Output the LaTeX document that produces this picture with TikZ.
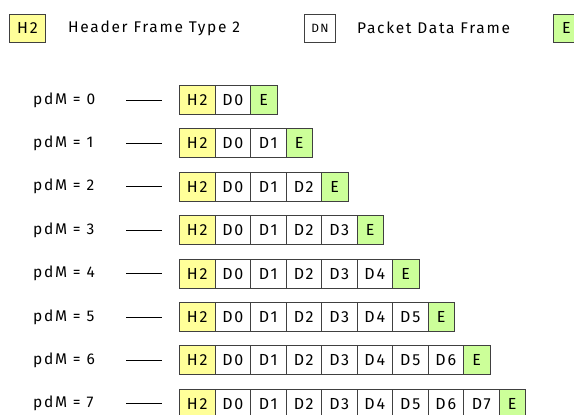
\documentclass[tikz,border=0pt]{standalone}
\usepackage{fontspec}
\setmainfont[LetterSpace=11]{Fira Sans}
\definecolor{hyel}{HTML}{FFFF99}
\definecolor{egrn}{HTML}{CCFF99}
\definecolor{edge}{HTML}{404040}
\begin{document}
\begin{tikzpicture}[x=1pt,y=-1pt,
  cell/.style={draw=edge,line width=1pt,minimum height=29pt,inner sep=0pt,anchor=west,font=\fontsize{16}{16}\selectfont},
  hbox/.style={cell,fill=hyel,minimum width=35.5pt},
  dbox/.style={cell,fill=white,minimum width=35.5pt},
  ebox/.style={cell,fill=egrn,minimum width=26.5pt},
  lbl/.style={anchor=west,inner sep=0pt,font=\fontsize{15.5}{15.5}\selectfont},
  conn/.style={draw=black,line width=0.9pt}]
\useasboundingbox (0,0) rectangle (574,415);
% legend
\node[hbox,minimum width=36pt,minimum height=28pt] (lh) at (9,28) {H2};
\node[lbl] (lht) at (68,28) {Header Frame Type 2};
\node[dbox,minimum width=31pt,minimum height=28pt,font=\fontsize{12}{12}\selectfont] (ld) at (304,28) {DN};
\node[lbl] (ldt) at (357,28) {Packet Data Frame};
\node[ebox,minimum width=26pt,minimum height=28pt] (le) at (553,28) {E};
% rows
\foreach \k in {0,...,7}{
  \pgfmathsetmacro{\yy}{100+43.4*\k}
  \node[lbl] (p\k) at (33,\yy) {pdM = \k};
  \coordinate (a\k) at (126,\yy);
  \coordinate (b\k) at (162,\yy);
  \draw[conn] (a\k) -- (b\k);
  \node[hbox] (h\k) at (179,\yy) {H2};
  \ifnum\k>0
    \pgfmathtruncatemacro{\last}{\k}
    \foreach \i in {0,...,\last}{
      \node[dbox] (d\k-\i) at (214.5+35.5*\i,\yy) {D\i};
    }
  \else
    \node[dbox] (d\k-0) at (214.5,\yy) {D0};
  \fi
  \node[ebox] (e\k) at (250+35.5*\k,\yy) {E};
}
\end{tikzpicture}
\end{document}
